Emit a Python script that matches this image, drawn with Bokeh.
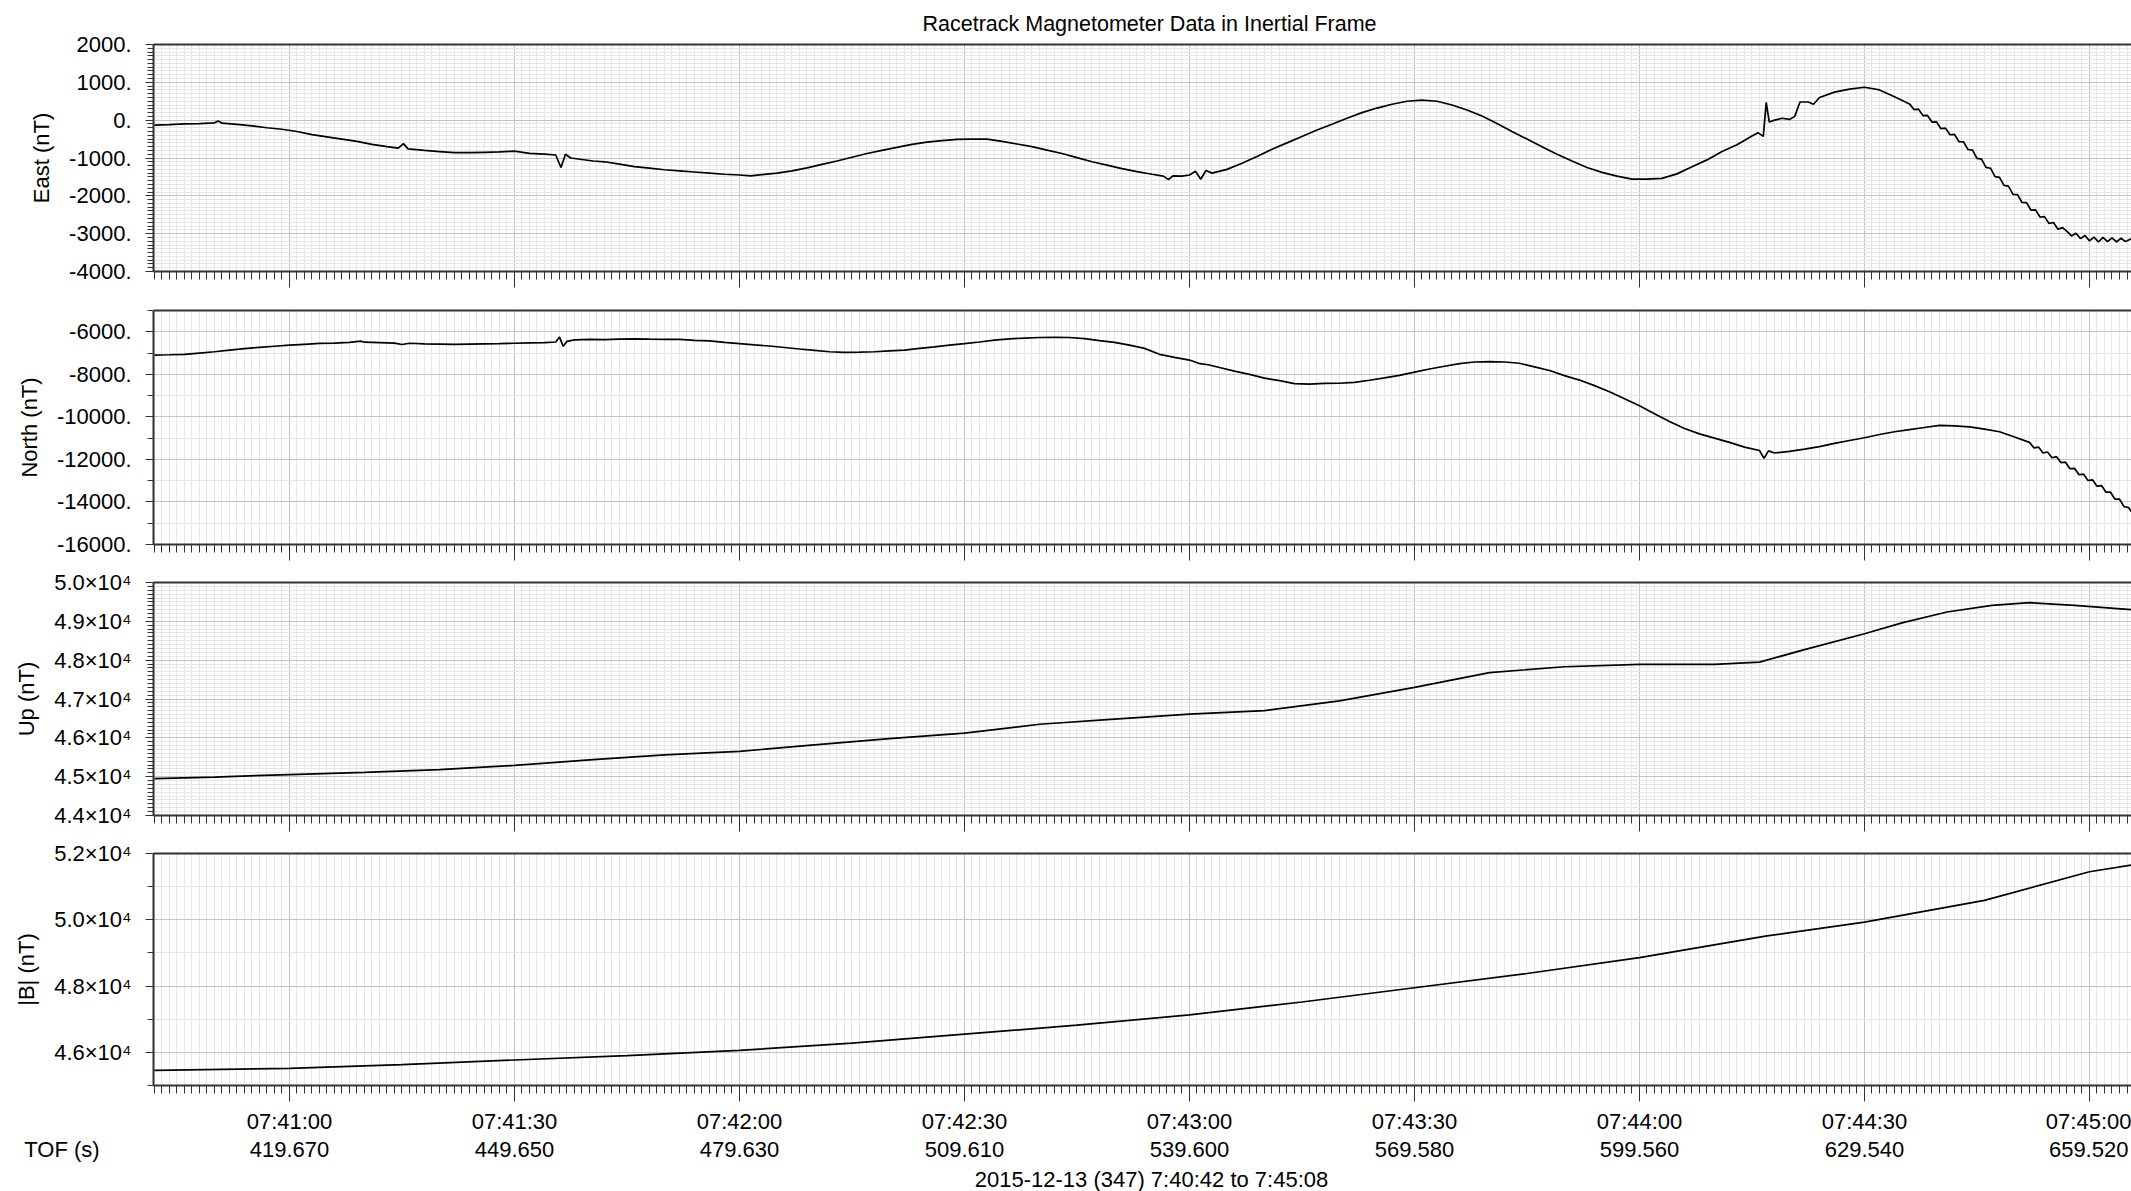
from bokeh.plotting import figure
from bokeh.layouts import column
from bokeh.models import (SingleIntervalTicker, FixedTicker, LinearAxis, Label, Title,
                          Range1d, CustomLabelingPolicy)
from bokeh.embed import file_html
from bokeh.resources import INLINE

# ---------------------------------------------------------------------------
# Time axis: seconds after 07:40:00 UTC
# ---------------------------------------------------------------------------
utc_labels = ["07:41:00", "07:41:30", "07:42:00", "07:42:30", "07:43:00",
              "07:43:30", "07:44:00", "07:44:30", "07:45:00"]
tof_labels = ["419.670", "449.650", "479.630", "509.610", "539.600",
              "569.580", "599.560", "629.540", "659.520"]
tof_title = "TOF (s)"
date_label = "2015-12-13 (347) 7:40:42 to 7:45:08"
title_text = "Racetrack Magnetometer Data in Inertial Frame"

# East component (nT)
t_east = [42, 44, 46, 48, 50, 50.5, 51, 53, 55, 57, 59, 61, 63, 65, 67, 69, 71, 73,
          74.5, 75.2, 75.8, 78, 80, 82, 84, 86, 88, 90, 92, 94, 95.5, 96.2, 96.8, 97.5,
          99, 100.5, 102, 104, 106, 108, 110, 112, 114, 116, 118, 120, 121.5, 123, 125,
          127, 129, 131, 133, 135, 137, 139, 141, 143, 145, 147, 149, 151, 153, 155,
          157, 159, 161, 163, 165, 167, 169, 171, 173, 175, 176.5, 177.2, 177.8, 179,
          180, 180.8, 181.5, 182.2, 183, 185, 187, 189, 191, 193, 195, 197, 199, 201,
          203, 205, 207, 209, 211, 213, 215, 217, 219, 221, 223, 225, 227, 229, 231,
          233, 235, 237, 239, 241, 243, 245, 247, 249, 251, 253, 255, 255.8, 256.5,
          256.9, 257.3, 258, 259, 260, 260.7, 261.4, 262.5, 263.2, 264, 266, 268, 270,
          272, 274,
          276.0, 276.6, 277.2, 277.8, 278.4, 279.0, 279.6, 280.2, 280.8, 281.4, 282.0,
          282.6, 283.2, 283.8, 284.4, 285.0, 285.6, 286.2, 286.8, 287.4, 288.0, 288.6,
          289.2, 289.8, 290.4, 291.0, 291.6, 292.2, 292.8, 293.4, 294.0, 294.6, 295.2,
          295.8, 296.4,
          297, 297.6, 298.2, 298.8, 299.4, 300, 300.6, 301.2, 301.8, 302.4, 303, 303.6,
          304.2, 304.8, 305.6]
east = [-130, -120, -100, -90, -70, -20, -80, -110, -150, -200, -240, -300, -380, -440,
        -500, -560, -640, -700, -740, -620, -760, -800, -830, -860, -860, -850, -840,
        -820, -880, -900, -920, -1250, -900, -1000, -1040, -1080, -1100, -1160, -1230,
        -1270, -1310, -1340, -1370, -1400, -1430, -1450, -1470, -1440, -1400, -1340,
        -1260, -1170, -1080, -980, -880, -800, -720, -640, -580, -540, -510, -500, -500,
        -560, -630, -700, -790, -880, -990, -1100, -1190, -1280, -1360, -1430, -1480,
        -1570, -1470, -1480, -1450, -1350, -1560, -1330, -1400, -1300, -1140, -960, -770,
        -600, -430, -260, -110, 50, 200, 320, 420, 500, 530, 500, 400, 270, 110, -90,
        -300, -500, -700, -900, -1080, -1250, -1380, -1480, -1560, -1560, -1540, -1420,
        -1230, -1050, -830, -650, -420, -330, -430, 470, -50, 0, 50, 20, 100, 480, 480,
        420, 600, 740, 820, 870, 800, 620,
        430, 280, 290, 120, 125, -50, -45, -225, -210, -385, -375,
        -570, -575, -775, -790, -1010, -1030, -1250, -1270, -1490, -1510, -1725,
        -1745, -1960, -1970, -2175, -2180, -2380, -2370, -2560, -2550, -2730, -2705,
        -2885, -2840,
        -2940, -3060, -2990, -3130, -3050, -3190, -3090, -3220, -3100, -3210, -3110,
        -3220, -3120, -3210, -3130]

# North component (nT)
t_north = [42, 44, 46, 48, 50, 52, 54, 56, 58, 60, 62, 64, 66, 68, 69.5, 70, 72, 74,
           75, 76, 78, 80, 82, 84, 86, 88, 90, 92, 94, 95.5, 96, 96.5, 97, 98, 100, 102,
           104, 106, 108, 110, 112, 114, 116, 118, 120, 122, 124, 126, 128, 130, 132,
           134, 136, 138, 140, 142, 144, 146, 148, 150, 152, 154, 156, 158, 160, 162,
           164, 166, 168, 170, 172, 174, 176, 178, 180, 181.4, 182.5, 184, 186, 188,
           190, 192, 194, 196, 198, 200, 202, 204, 206, 208, 210, 212, 214, 216, 218,
           220, 222, 224, 226, 228, 230, 232, 234, 236, 238, 240, 242, 244, 246, 248,
           250, 252, 254, 256, 256.6, 257.2, 258, 260, 262, 264, 266, 268, 270, 272,
           274, 276, 278, 280, 282, 284, 286, 288, 290,
           292.0, 292.6, 293.2, 293.8, 294.4, 295.0, 295.6, 296.2, 296.8, 297.4, 298.0,
           298.6, 299.2, 299.8, 300.4, 301.0, 301.6, 302.2, 302.8, 303.4, 304.0, 304.6,
           305.2, 305.6]
north = [-7097, -7080, -7060, -7000, -6940, -6860, -6790, -6730, -6680, -6630, -6590,
         -6550, -6530, -6500, -6440, -6490, -6510, -6530, -6600, -6540, -6570, -6580,
         -6590, -6580, -6570, -6560, -6540, -6520, -6510, -6480, -6250, -6680, -6450,
         -6380, -6360, -6370, -6350, -6330, -6350, -6360, -6360, -6400, -6430, -6500,
         -6560, -6620, -6670, -6740, -6810, -6870, -6940, -6970, -6960, -6940, -6900,
         -6860, -6780, -6710, -6630, -6560, -6480, -6390, -6330, -6300, -6270, -6260,
         -6270, -6320, -6420, -6500, -6630, -6780, -7060, -7200, -7330, -7500, -7550,
         -7680, -7850, -8000, -8180, -8300, -8440, -8460, -8430, -8420, -8380, -8280,
         -8170, -8050, -7900, -7750, -7620, -7500, -7420, -7400, -7420, -7480, -7650,
         -7820, -8060, -8270, -8530, -8820, -9150, -9480, -9850, -10220, -10550, -10800,
         -11000, -11200, -11420, -11580, -11950, -11600, -11700, -11620, -11520, -11400,
         -11250, -11110, -10980, -10830, -10700, -10600, -10500, -10400, -10420, -10470,
         -10580, -10700, -10950,
         -11200, -11460, -11420, -11700, -11650, -11920, -11870, -12150, -12130, -12440,
         -12420, -12720, -12690, -12990, -12960, -13260, -13230, -13540, -13540, -13870,
         -13870, -14220, -14260, -14460]

# Up component (nT)
t_up = [42, 50, 60, 70, 80, 90, 100, 110, 120, 130, 140, 150, 160, 170, 180, 190, 200,
        210, 220, 230, 240, 250, 256, 262, 270, 275, 281, 287, 292, 298, 305.6]
up = [44950, 44990, 45055, 45110, 45180, 45290, 45430, 45560, 45650, 45820, 45980,
      46120, 46350, 46480, 46610, 46700, 46950, 47300, 47680, 47830, 47890, 47890,
      47950, 48270, 48680, 48960, 49240, 49410, 49480, 49410, 49300]

# Field magnitude |B| (nT)
t_mag = [42, 60, 75, 90, 105, 120, 135, 150, 165, 180, 195, 210, 225, 240, 257, 270,
         286, 300, 305.6]
mag = [45455, 45515, 45627, 45770, 45900, 46060, 46280, 46550, 46820, 47130, 47520,
       47950, 48380, 48860, 49515, 49930, 50585, 51450, 51650]

FONT = "Liberation Sans"
FS = "22px"
X_START, X_END = 41.87, 305.6
W = 2131
LEFT = 153
PX_PER_S = 7.5
AX = "#333333"

major_x = [60 + 30 * i for i in range(len(utc_labels))]
minor_x = [s for s in range(42, 306)]

# suppresses every tick label of an axis (ticks themselves stay)
no_labels = CustomLabelingPolicy(code="""
for (const i of [...indices]) indices.unset(i)
return indices
""")


def sci(v):
    return f"{v / 1e4:.1f}\u00d710\u2074"


def plain(v):
    return f"{v}."


def make_panel(height, top, bottom, label, y0, y1, interval, n_minor, labelled, fmt,
               t, vals):
    p = figure(width=W, height=height, output_backend="svg", toolbar_location=None,
               x_range=Range1d(X_START, X_END), y_range=Range1d(y0, y1),
               min_border_left=LEFT, min_border_right=0, min_border_top=top,
               min_border_bottom=bottom, x_axis_location=None, y_axis_location=None)
    p.outline_line_color = None
    p.background_fill_color = "white"
    p.border_fill_color = "white"

    yt = SingleIntervalTicker(interval=interval, num_minor_ticks=n_minor)
    ya = LinearAxis(ticker=yt, axis_label=label)
    ya.major_label_overrides = {v: fmt(v) for v in labelled}
    ya.axis_label_text_font = FONT
    ya.axis_label_text_font_size = FS
    ya.axis_label_text_font_style = "normal"
    ya.axis_label_text_color = "black"
    ya.axis_label_standoff = 12
    ya.major_label_text_font = FONT
    ya.major_label_text_font_size = FS
    ya.major_label_text_color = "black"
    ya.major_label_standoff = 14
    ya.major_tick_out = 8
    ya.major_tick_in = 0
    ya.minor_tick_out = 6
    ya.minor_tick_in = 0
    ya.axis_line_color = AX
    ya.axis_line_width = 2
    ya.major_tick_line_color = AX
    ya.minor_tick_line_color = AX
    p.add_layout(ya, "left")

    # time ticks under every panel; the labels are drawn once, in the strip below
    xt = FixedTicker(ticks=major_x, minor_ticks=minor_x)
    xa = LinearAxis(ticker=xt)
    xa.major_tick_out = 16
    xa.major_tick_in = 0
    xa.minor_tick_out = 8
    xa.minor_tick_in = 0
    xa.axis_line_color = AX
    xa.axis_line_width = 2
    xa.major_tick_line_color = AX
    xa.minor_tick_line_color = AX
    xa.major_label_policy = no_labels
    xa.major_label_text_font_size = "1px"
    xa.major_label_standoff = 0
    p.add_layout(xa, "below")

    # top border line
    ta = LinearAxis(ticker=FixedTicker(ticks=[]))
    ta.major_tick_out = 0
    ta.minor_tick_out = 0
    ta.major_label_policy = no_labels
    ta.major_label_text_font_size = "1px"
    ta.major_label_standoff = 0
    ta.axis_line_color = AX
    ta.axis_line_width = 2
    p.add_layout(ta, "above")

    # grid lines follow the tickers of the axes
    p.xgrid.ticker = xt
    p.ygrid.ticker = yt
    for g in (p.xgrid[0], p.ygrid[0]):
        g.grid_line_color = "#c4c4c4"
        g.grid_line_width = 1
        g.minor_grid_line_color = "#e6e6e6"
        g.minor_grid_line_width = 1

    p.line(t, vals, line_color="black", line_width=1.7)
    return p


p1 = make_panel(291, 43, 18, "East (nT)", -4000, 2000, 1000, 10,
                range(-4000, 2001, 1000), plain, t_east, east)
p1.add_layout(Title(text=title_text, align="left", offset=769, text_font=FONT,
                    text_font_size="21.5px", text_font_style="normal",
                    text_color="black", standoff=18), "above")
p2 = make_panel(273, 19, 18, "North (nT)", -16000, -5000, 2000, 2,
                range(-16000, -5999, 2000), plain, t_north, north)
p3 = make_panel(271, 18, 18, "Up (nT)", 44000, 50000, 1000, 10,
                range(44000, 50001, 1000), sci, t_up, up)
p4 = make_panel(270, 18, 20, "|B| (nT)", 45000, 52000, 2000, 2,
                range(46000, 52001, 2000), sci, t_mag, mag)

# ---------------------------------------------------------------------------
# Time labels strip: same seconds-per-pixel as the panels, spanning the full width
# ---------------------------------------------------------------------------
strip_h = 1191 - (291 + 273 + 271 + 270)
lab = figure(width=W, height=strip_h, output_backend="svg", toolbar_location=None,
             x_range=Range1d(X_START - LEFT / PX_PER_S, X_END), y_range=Range1d(0, 1),
             min_border_left=0, min_border_right=0, min_border_top=59,
             min_border_bottom=0, x_axis_location=None, y_axis_location=None)
lab.frame_align = False
lab.outline_line_color = None
lab.grid.visible = False
lab.background_fill_color = "white"
lab.border_fill_color = "white"

tof_x = X_START - (LEFT - 61.5) / PX_PER_S
la = LinearAxis(ticker=FixedTicker(ticks=[tof_x] + major_x, minor_ticks=[]))
la.major_label_overrides = {m: f"{u}\n{tof}" for m, u, tof in
                            zip(major_x, utc_labels, tof_labels)}
la.major_label_overrides[tof_x] = f" \n{tof_title}"
la.major_label_text_font = FONT
la.major_label_text_font_size = FS
la.major_label_text_color = "black"
la.major_label_text_line_height = 1.1
la.major_label_standoff = 6
la.major_tick_out = 0
la.major_tick_in = 0
la.axis_line_color = None
lab.add_layout(la, "above")

lab.add_layout(Label(x=(X_START + 308) / 2, y=0.5, text=date_label, text_font=FONT,
                     text_font_size=FS, text_color="black", text_align="center",
                     text_baseline="middle"))

layout = column(p1, p2, p3, p4, lab, spacing=0)
open("out.html", "w").write(file_html(layout, INLINE))
